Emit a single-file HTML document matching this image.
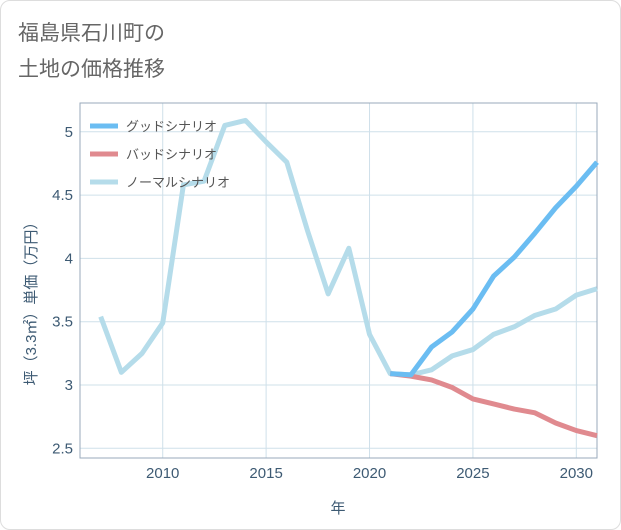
<!DOCTYPE html>
<html><head><meta charset="utf-8"><style>
body{margin:0;background:#fff;font-family:"Liberation Sans","Noto Sans CJK JP",sans-serif;}
#wrap{position:relative;width:619px;height:528px;border:1px solid #ddd;border-radius:10px;background:#fff;}
</style></head><body>
<div id="wrap">
<svg id="chart" width="621" height="530" style="position:absolute;left:-1px;top:-1px">
<text x="18" y="40" font-size="21" fill="#666">福島県石川町の</text>
<text x="18" y="76" font-size="21" fill="#666">土地の価格推移</text>
<g id="grid"></g><g id="series"></g><g id="legend"></g>
<text x="338" y="513" font-size="15" fill="#3d5a73" text-anchor="middle">年</text>
<text transform="translate(36,300) rotate(-90)" font-size="15" fill="#3d5a73" text-anchor="middle">坪（3.3㎡）単価（万円）</text>
</svg></div>
<script>
const years=[2007,2008,2009,2010,2011,2012,2013,2014,2015,2016,2017,2018,2019,2020,2021,2022,2023,2024,2025,2026,2027,2028,2029,2030,2031];
const normal=[3.54,3.10,3.25,3.49,4.58,4.61,5.05,5.09,4.92,4.76,4.22,3.72,4.08,3.40,3.09,3.08,3.12,3.23,3.28,3.40,3.46,3.55,3.60,3.71,3.76];
const fyears=[2021,2022,2023,2024,2025,2026,2027,2028,2029,2030,2031];
const good=[3.09,3.08,3.30,3.42,3.60,3.86,4.01,4.20,4.40,4.57,4.76];
const bad=[3.09,3.07,3.04,2.98,2.89,2.85,2.81,2.78,2.70,2.64,2.60];
const xTicks=[2010,2015,2020,2025,2030];
const yTicks=[2.5,3,3.5,4,4.5,5];
const L=80,R=597,T=103,B=458;
const x=v=>L+(v-2006)*(R-L)/25;
const y=v=>385-(v-3)*126.6;
const NS="http://www.w3.org/2000/svg";
function mk(t,a,p){const e=document.createElementNS(NS,t);for(const k in a)e.setAttribute(k,a[k]);p.appendChild(e);return e;}
const g=document.getElementById('grid');
xTicks.forEach(t=>{const l=mk('line',{x1:x(t),x2:x(t),y1:T,y2:B,stroke:'#cfe0ea'},g);


const tx=mk('text',{x:x(t),y:478,'font-size':15,fill:'#3d5a73','text-anchor':'middle'},g);tx.textContent=t;

});
yTicks.forEach(t=>{const l=mk('line',{x1:L,x2:R,y1:y(t),y2:y(t),stroke:'#cfe0ea'},g);


const tx=mk('text',{x:73,y:y(t)+5,'font-size':15,fill:'#3d5a73','text-anchor':'end'},g);tx.textContent=t;

});
const fr=mk('rect',{x:L,y:T,width:R-L,height:B-T,fill:'none',stroke:'#9ab'},g);


const s=document.getElementById('series');
function line(xs,vs,c,n){const p=mk('polyline',{points:xs.map((v,i)=>x(v)+','+y(vs[i])).join(' '),fill:'none',stroke:c,'stroke-width':5,'stroke-linejoin':'round'},s);

}
line(years,normal,'#b5dcea','normal-scenario-line');
line(fyears,bad,'#e08a8f','bad-scenario-line');
line(fyears,good,'#6bbdf2','good-scenario-line');
const lg=document.getElementById('legend');
[['グッドシナリオ','#6bbdf2'],['バッドシナリオ','#e08a8f'],['ノーマルシナリオ','#b5dcea']].forEach((d,i)=>{
const yy=126+i*28;
const l=mk('line',{x1:90,x2:118,y1:yy,y2:yy,stroke:d[1],'stroke-width':5},lg);


const tx=mk('text',{x:126,y:yy+5,'font-size':13,fill:'#555'},lg);tx.textContent=d[0];

});
</script></body></html>
